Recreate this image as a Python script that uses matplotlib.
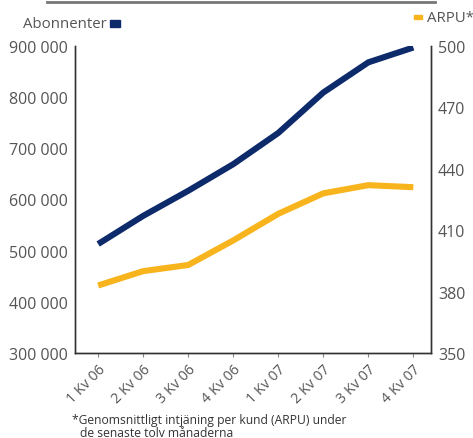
import matplotlib
matplotlib.use("Agg")
import matplotlib.pyplot as plt
from matplotlib.lines import Line2D
from matplotlib.patches import Rectangle

quarters = ["1 Kv 06", "2 Kv 06", "3 Kv 06", "4 Kv 06",
            "1 Kv 07", "2 Kv 07", "3 Kv 07", "4 Kv 07"]
abonnenter = [513000, 568000, 617000, 669000, 730000, 809000, 868000, 897000]
arpu = [383, 390, 393, 405, 418, 428, 432, 431]

left_ticks = [300000, 400000, 500000, 600000, 700000, 800000, 900000]
right_ticks = [350, 380, 410, 440, 470, 500]

NAVY = "#0d2a6b"
GOLD = "#f8b41c"
GREY = "#555555"

plt.rcParams["font.family"] = ["Open Sans", "DejaVu Sans"]

fig = plt.figure(figsize=(4.73, 4.39), dpi=100)
ax = fig.add_axes([0.158, 0.1936, 0.753, 0.6994])
ax2 = ax.twinx()

x = list(range(len(quarters)))
ax.plot(x, abonnenter, color=NAVY, lw=4.4, solid_capstyle="butt", zorder=3)
ax2.plot(x, arpu, color=GOLD, lw=4.4, solid_capstyle="butt", zorder=3)

ax.set_xlim(-0.52, 7.39)
ax.set_ylim(300000, 900000)
ax2.set_ylim(350, 500)

ax.set_yticks(left_ticks)
ax.set_yticklabels([f"{v:,}".replace(",", " ") for v in left_ticks])
ax2.set_yticks(right_ticks)
ax2.set_yticklabels([str(v) for v in right_ticks])

ax.set_xticks(x)
ax.set_xticklabels(quarters, rotation=45, ha="right", rotation_mode="anchor")

for a in (ax, ax2):
    a.spines["top"].set_visible(False)
    for s in ("left", "right", "bottom"):
        a.spines[s].set_color("#333333")
        a.spines[s].set_linewidth(1.0)
    a.tick_params(axis="y", length=0, labelsize=11.5, colors=GREY, pad=5)
ax.tick_params(axis="x", length=3, labelsize=10.3, colors=GREY, pad=3,
               color="#888888")

# rule above the chart
fig.add_artist(Line2D([47 / 473, 435 / 473], [1 - 3 / 439, 1 - 3 / 439],
                      color="#777777", lw=2))

# series labels
fig.text(107 / 473, 1 - 24 / 439, "Abonnenter", ha="right", va="center",
         fontsize=10.8, color=GREY)
fig.add_artist(Rectangle((110 / 473, 1 - 28 / 439), 10 / 473, 7 / 439,
                         color=NAVY, transform=fig.transFigure))
fig.add_artist(Rectangle((414 / 473, 1 - 19.5 / 439), 8 / 473, 4 / 439,
                         color=GOLD, transform=fig.transFigure))
fig.text(427 / 473, 1 - 18 / 439, "ARPU*", ha="left", va="center",
         fontsize=10.8, color=GREY)

# footnote
fig.text(72 / 473, 1 - 421 / 439,
         "*Genomsnittligt intjäning per kund (ARPU) under",
         ha="left", va="center", fontsize=8.7, color="#333333")
fig.text(80 / 473, 1 - 434 / 439, "de senaste tolv månaderna",
         ha="left", va="center", fontsize=8.7, color="#333333")

fig.savefig("out.png", dpi=100)
